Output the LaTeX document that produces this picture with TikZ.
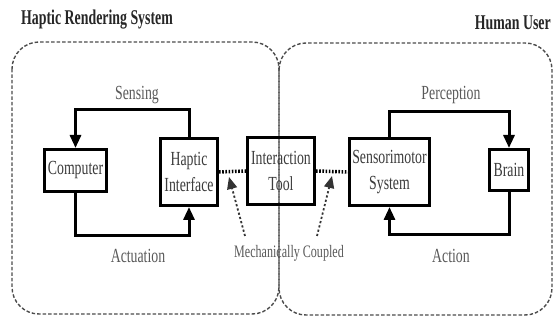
\documentclass[tikz,border=0pt]{standalone}
\usepackage{fontspec}
\setmainfont{Liberation Serif}[FakeStretch=0.69]
\newfontfamily\titlefont{Liberation Serif}[FakeStretch=0.66]
\usetikzlibrary{arrows.meta}
\definecolor{txt}{HTML}{3C3C3C}
\tikzset{
  blk/.style={draw=black, line width=3pt, fill=white, align=center, text=txt,
    font=\fontsize{20}{26}\selectfont, inner sep=0pt},
  conn/.style={line width=3pt, -{Triangle[width=11pt,length=13pt]}},
  lbl/.style={text=txt!85, font=\fontsize{20}{25}\selectfont, inner sep=0pt},
  ttl/.style={text=black!85, font=\titlefont\bfseries\fontsize{21}{25}\selectfont, inner sep=0pt},
  dbox/.style={draw=black!70, line width=1.4pt, dash pattern=on 3.5pt off 2pt, rounded corners=27pt},
  coupling/.style={line width=3.5pt, dash pattern=on 1.6pt off 1.6pt},
  mech/.style={line width=1.8pt, dash pattern=on 2.2pt off 2.2pt, draw=black!80,
    -{Triangle[width=10pt,length=12pt]}}
}
\begin{document}
\begin{tikzpicture}[x=1pt,y=-1pt]
\useasboundingbox (0,0) rectangle (555,320);
% dashed regions
\draw[dbox] (12,42) rectangle (279,314);
\draw[dbox] (279,43) rectangle (552,315);
% titles
\node[ttl, anchor=base west] (t1) at (21,24.5) {Haptic Rendering System};
\node[ttl, anchor=base east] (t2) at (551,30) {Human User};
% blocks
\node[blk, minimum width=62pt, minimum height=42pt] (comp) at (75.5,170.5) {Computer};
\node[blk, minimum width=57pt, minimum height=67pt] (hi) at (189,172) {Haptic\\Interface};
\node[blk, minimum width=67pt, minimum height=67pt, fill=none] (it) at (281,171) {Interaction\\Tool};
\node[blk, minimum width=80pt, minimum height=67pt] (ss) at (389.5,172) {Sensorimotor\\System};
\node[blk, minimum width=39pt, minimum height=41pt] (brain) at (509,170) {Brain};
% loops
\draw[conn] (hi.north) -- ++(0,-27) -| (comp.north);
\draw[conn] (comp.south) -- ++(0,43) -| (hi.south);
\draw[conn] (ss.north) -- ++(0,-25) -| (brain.north);
\draw[conn] (brain.south) -- ++(0,43) -| (ss.south);
% labels
\node[lbl] (sensing) at (137,95) {Sensing};
\node[lbl] (actuation) at (138,256) {Actuation};
\node[lbl] (perception) at (451,95) {Perception};
\node[lbl] (action) at (451,256) {Action};
% couplings
\draw[coupling] (hi.east) -- (it.west);
\draw[coupling] (it.east) -- (ss.west);
% mechanically coupled
\node[lbl, font=\fontsize{17.5}{20}\selectfont] (mc) at (289,253) {Mechanically Coupled};
\coordinate (m1s) at (245,236);
\coordinate (m1e) at (229,177);
\coordinate (m2s) at (317,236);
\coordinate (m2e) at (332,176);
\draw[mech] (m1s) -- (m1e);
\draw[mech] (m2s) -- (m2e);
\end{tikzpicture}
\end{document}
